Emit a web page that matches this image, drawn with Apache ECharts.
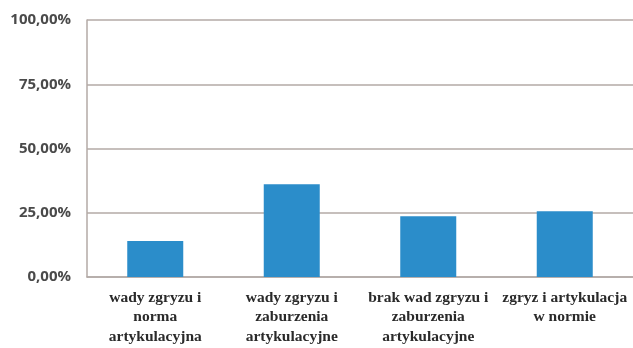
<!DOCTYPE html>
<html><head><meta charset="utf-8">
<script src="https://cdn.jsdelivr.net/npm/echarts@6/dist/echarts.min.js"></script>
<style>html,body{margin:0;padding:0;background:#fff}#c{width:633px;height:348px}</style>
</head><body><div id="c"></div>
<script>
const categories = ["wady zgryzu i\nnorma\nartykulacyjna", "wady zgryzu i\nzaburzenia\nartykulacyjne", "brak wad zgryzu i\nzaburzenia\nartykulacyjne", "zgryz i artykulacja\nw normie"];
const values = [14.0, 36.1, 23.6, 25.6];
const yTicks = [0, 25, 50, 75, 100];

const chart = echarts.init(document.getElementById('c'), null, {renderer: 'canvas'});
chart.setOption({
  animation: false,
  backgroundColor: '#ffffff',
  grid: {left: 87, right: -4, top: 20, bottom: 71, containLabel: false},
  xAxis: {
    type: 'category',
    data: categories,
    axisLine: {show: true, lineStyle: {color: '#b3aaa6', width: 1.5}},
    axisTick: {show: false},
    axisLabel: {
      interval: 0,
      margin: 11,
      fontFamily: 'Liberation Serif',
      fontSize: 15.5,
      lineHeight: 19.5,
      color: '#2a2a2a',
      fontWeight: 'bold'
    }
  },
  yAxis: {
    type: 'value',
    min: yTicks[0],
    max: yTicks[yTicks.length - 1],
    interval: 25,
    axisLine: {show: true, lineStyle: {color: '#b3aaa6', width: 1.5}},
    axisTick: {show: false},
    splitLine: {show: true, lineStyle: {color: '#b3aaa6', width: 1.5}},
    axisLabel: {
      margin: 16,
      fontFamily: 'Open Sans',
      fontSize: 15,
      fontWeight: 'bold',
      color: '#4a4a4a',
      formatter: v => v.toFixed(2).replace('.', ',') + '%'
    }
  },
  series: [{
    type: 'bar',
    data: values,
    barWidth: 56,
    itemStyle: {color: '#2b8dca'}
  }]
});
</script></body></html>
